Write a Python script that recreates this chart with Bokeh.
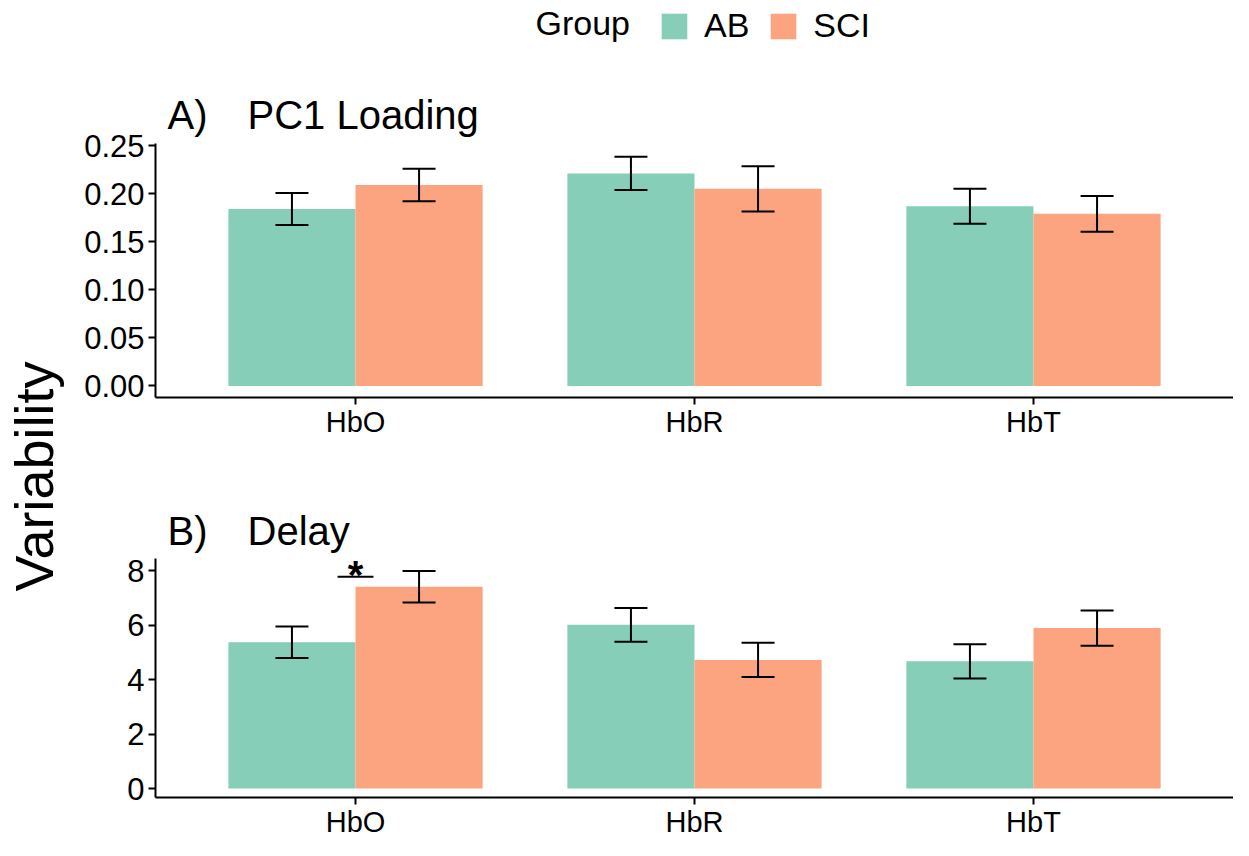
import math
from bokeh.plotting import figure
from bokeh.models import (ColumnDataSource, FactorRange, Range1d, FixedTicker,
                          NumeralTickFormatter, Whisker, TeeHead, Label, Legend, LegendItem)
from bokeh.transform import dodge
from bokeh.layouts import column, row
from bokeh.embed import file_html
from bokeh.resources import INLINE
from bokeh.core.properties import value

# ---------------- data ----------------
categories = ["HbO", "HbR", "HbT"]
groups = ["AB", "SCI"]

pc1_ab = [0.184, 0.221, 0.187]
pc1_sci = [0.209, 0.205, 0.179]
pc1_ab_err = [0.0166, 0.0173, 0.0182]
pc1_sci_err = [0.0170, 0.0235, 0.0186]

delay_ab = [5.38, 6.02, 4.68]
delay_sci = [7.42, 4.73, 5.90]
delay_ab_err = [0.58, 0.62, 0.63]
delay_sci_err = [0.58, 0.63, 0.65]

sig_cat = ["HbO"]
sig_line_y = [7.79]
sig_star_y = [7.84]
sig_text = ["*"]

pc1_ticks = [0.0, 0.05, 0.10, 0.15, 0.20, 0.25]
delay_ticks = [0, 2, 4, 6, 8]

panel_titles = [("A)", "PC1 Loading"), ("B)", "Delay")]
legend_title = "Group"
y_title = "Variability"

AB_COLOR = "#86CEB7"
SCI_COLOR = "#FCA480"
FONT = "Liberation Sans"

BAR_W = 0.375


def style_axes(p):
    for ax in (p.xaxis, p.yaxis):
        ax.axis_line_width = 2
        ax.axis_line_color = "black"
        ax.major_tick_line_width = 2
        ax.major_tick_line_color = "black"
        ax.major_tick_out = 7
        ax.major_tick_in = 0
        ax.minor_tick_line_color = None
        ax.major_label_text_font = FONT
        ax.major_label_text_color = "black"
    p.xaxis.major_label_text_font_size = "29px"
    p.yaxis.major_label_text_font_size = "31px"
    p.xaxis.major_label_standoff = 1
    p.yaxis.major_label_standoff = 4
    p.xgrid.grid_line_color = None
    p.ygrid.grid_line_color = None
    p.outline_line_color = None


def make_panel(ab, sci, ab_err, sci_err, y_range, bounds, ticks, fmt, height,
               top, bottom, title_pair, title_y):
    p = figure(x_range=FactorRange(factors=categories, range_padding=0.09,
                                   range_padding_units="absolute"),
               y_range=y_range, width=1163, height=height,
               min_border_left=85, min_border_right=0,
               min_border_top=top, min_border_bottom=bottom,
               toolbar_location=None, output_backend="svg")
    src = ColumnDataSource(dict(
        cat=categories, ab=ab, sci=sci,
        ab_lo=[v - e for v, e in zip(ab, ab_err)],
        ab_hi=[v + e for v, e in zip(ab, ab_err)],
        sci_lo=[v - e for v, e in zip(sci, sci_err)],
        sci_hi=[v + e for v, e in zip(sci, sci_err)],
    ))
    r_ab = p.vbar(x=dodge("cat", -BAR_W / 2, range=p.x_range), top="ab", bottom=0,
                  width=BAR_W, source=src, fill_color=AB_COLOR, line_color=None)
    r_sci = p.vbar(x=dodge("cat", BAR_W / 2, range=p.x_range), top="sci", bottom=0,
                   width=BAR_W, source=src, fill_color=SCI_COLOR, line_color=None)
    for off, lo, hi in ((-BAR_W / 2, "ab_lo", "ab_hi"), (BAR_W / 2, "sci_lo", "sci_hi")):
        w = Whisker(base=dodge("cat", off, range=p.x_range), lower=lo, upper=hi,
                    source=src, line_width=2, line_color="black", level="overlay",
                    upper_head=TeeHead(size=33, line_width=2, line_color="black"),
                    lower_head=TeeHead(size=33, line_width=2, line_color="black"))
        p.add_layout(w)
    style_axes(p)
    p.yaxis.bounds = bounds
    p.yaxis.ticker = FixedTicker(ticks=ticks)
    p.yaxis.formatter = NumeralTickFormatter(format=fmt)
    p.add_layout(Label(x=12, y=title_y, x_units="screen", y_units="screen",
                       text=title_pair[0], text_font=FONT, text_font_size="40px",
                       text_color="black", text_baseline="alphabetic"))
    p.add_layout(Label(x=92, y=title_y, x_units="screen", y_units="screen",
                       text=title_pair[1], text_font=FONT, text_font_size="40px",
                       text_color="black", text_baseline="alphabetic"))
    return p, r_ab, r_sci


# Panel A: frame spans the whole top area (legend + title live inside it)
pA, rA_ab, rA_sci = make_panel(pc1_ab, pc1_sci, pc1_ab_err, pc1_sci_err,
                               Range1d(-0.012, 0.4009), (-0.012, 0.252),
                               pc1_ticks, "0.00", 462, 0, 65, panel_titles[0], 283)
# Panel B
pB, _, _ = make_panel(delay_ab, delay_sci, delay_ab_err, delay_sci_err,
                      Range1d(-0.329, 10.959), (-0.329, 8.46),
                      delay_ticks, "0", 378, 28, 41, panel_titles[1], 267)

# significance bracket
sig_src = ColumnDataSource(dict(cat=sig_cat, y=sig_line_y, sy=sig_star_y, t=sig_text))
pB.segment(x0=dodge("cat", -0.053, range=pB.x_range), x1=dodge("cat", 0.053, range=pB.x_range),
           y0="y", y1="y", source=sig_src, line_width=2, line_color="black")
pB.text(x="cat", y="sy", text="t", source=sig_src, text_align="center",
        text_baseline="middle", text_font=value(FONT), text_font_size="40px",
        text_font_style="bold", text_color="black")

# legend at the top of panel A
legend = Legend(items=[LegendItem(label=groups[0], renderers=[rA_ab]),
                       LegendItem(label=groups[1], renderers=[rA_sci])],
                orientation="horizontal", location=(503, 352),
                glyph_width=32, glyph_height=32, label_height=32, label_text_font=FONT,
                label_text_font_size="34px", label_text_color="black",
                label_standoff=14, spacing=18, padding=0, margin=0,
                border_line_color=None, background_fill_alpha=0)
pA.add_layout(legend)
pA.add_layout(Label(x=380, y=375, x_units="screen", y_units="screen", text=legend_title,
                    text_font=FONT, text_font_size="34px", text_color="black",
                    text_baseline="alphabetic"))

# ---------------- shared y title ----------------
yf = figure(width=70, height=840, x_range=Range1d(0, 70), y_range=Range1d(0, 840),
            min_border=0, toolbar_location=None, output_backend="svg")
yf.axis.visible = False
yf.grid.grid_line_color = None
yf.outline_line_color = None
yf.add_layout(Label(x=33, y=364, text=y_title, angle=math.pi / 2, text_align="center",
                    text_baseline="middle", text_font=FONT, text_font_size="54px",
                    text_color="black"))

layout = row(yf, column(pA, pB))
open("out.html", "w").write(file_html(layout, INLINE))
